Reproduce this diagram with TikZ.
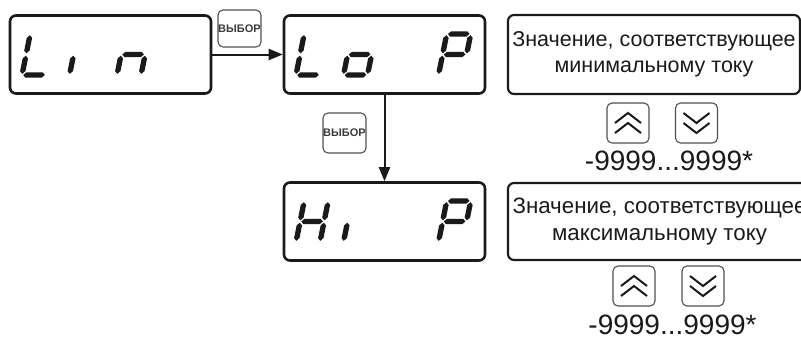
\documentclass[tikz,border=0pt]{standalone}
\usepackage{fontspec}
\setmainfont{Liberation Sans}
\usetikzlibrary{arrows.meta,calc}
\definecolor{ink}{HTML}{1A1A1A}
\definecolor{btn}{HTML}{505050}
\newcommand\segH[3]{\fill[ink] (#1,#3) -- ({#1+2.7},{#3+2.7}) -- ({#2-2.7},{#3+2.7}) -- (#2,#3) -- ({#2-2.7},{#3-2.7}) -- ({#1+2.7},{#3-2.7}) -- cycle;}
\newcommand\segV[3]{\fill[ink] (#1,#2) -- ({#1+2.7},{#2+2.7}) -- ({#1+2.7},{#3-2.7}) -- (#1,#3) -- ({#1-2.7},{#3-2.7}) -- ({#1-2.7},{#2+2.7}) -- cycle;}
\newcommand\segA{\segH{1.2}{22.8}{41}}
\newcommand\segG{\segH{1.2}{22.8}{20.5}}
\newcommand\segD{\segH{1.2}{22.8}{0}}
\newcommand\segF{\segV{0}{21.7}{39.8}}
\newcommand\segE{\segV{0}{1.2}{19.3}}
\newcommand\segB{\segV{24}{21.7}{39.8}}
\newcommand\segC{\segV{24}{1.2}{19.3}}
\newcommand\sevdig[3]{\begin{scope}[shift={(#1,#2)}, yscale=-1, xslant=-0.2]#3\end{scope}}
\newcommand\chevup[1]{\draw[chev] ($(#1)+(-13,0)$) -- ($(#1)+(0,-10)$) -- ($(#1)+(13,0)$);
  \draw[chev] ($(#1)+(-13,10)$) -- ($(#1)+(0,0)$) -- ($(#1)+(13,10)$);}
\newcommand\chevdown[1]{\draw[chev] ($(#1)+(-13,-10)$) -- ($(#1)+(0,0)$) -- ($(#1)+(13,-10)$);
  \draw[chev] ($(#1)+(-13,0)$) -- ($(#1)+(0,10)$) -- ($(#1)+(13,0)$);}
\tikzset{
  disp/.style={draw=ink, line width=2.6pt, rounded corners=6pt, minimum width=201pt, minimum height=78pt, inner sep=0pt},
  selbtn/.style={draw=btn, line width=1.1pt, rounded corners=5pt, minimum width=43pt, inner sep=0pt, text=ink!85, font=\bfseries\fontsize{11}{12}\selectfont},
  keybtn/.style={draw=btn, line width=1.1pt, rounded corners=5pt, minimum width=42pt, minimum height=40pt, inner sep=0pt},
  tbox/.style={draw=ink, line width=2.1pt, rounded corners=6pt, align=center, inner sep=0pt, text=ink},
  arr/.style={draw=ink, line width=2pt, -{Triangle[length=14pt,width=11pt]}},
  chev/.style={draw=ink, line width=2pt},
  rng/.style={anchor=base, text=ink, font=\fontsize{28}{30}\selectfont}
}
\begin{document}
\begin{tikzpicture}[x=1pt,y=-1pt]
\useasboundingbox (0,0) rectangle (801,338);
\fill[white] (0,0) rectangle (801,338);
\clip (0,0) rectangle (801,338);
% displays
\node[disp] (lin) at (110.5,54.5) {};
\node[disp] (lop) at (384.5,54.5) {};
\node[disp] (hip) at (384.5,221.5) {};
% Lin
\sevdig{22}{75}{\segF\segE\segD}
\sevdig{69.5}{75}{\segE}
\sevdig{117}{75}{\segE\segG\segC}
% Lo P
\sevdig{296}{75}{\segF\segE\segD}
\sevdig{343.5}{75}{\segC\segD\segE\segG}
\sevdig{438.5}{75}{\segA\segB\segF\segG\segE}
% Hi P
\sevdig{296}{242}{\segB\segC\segE\segF\segG}
\sevdig{343.5}{242}{\segE}
\sevdig{438.5}{242}{\segA\segB\segF\segG\segE}
% select buttons
\node[selbtn, minimum height=37pt] (b1) at (239.5,28.5) {ВЫБОР};
\node[selbtn, minimum height=40pt] (b2) at (344.5,133) {ВЫБОР};
% arrows
\draw[arr] (lin.east) -- (lop.west);
\draw[arr] (lop.south) -- (hip.north);
% text boxes
\node[tbox, minimum width=292pt, minimum height=79pt, font=\fontsize{21.5}{26}\selectfont] (t1) at (654,54.5) {Значение, соответствующее\\минимальному току};
\node[tbox, minimum width=303pt, minimum height=77pt, font=\fontsize{22.3}{26.7}\selectfont] (t2) at (659.5,221.5) {Значение, соответствующее\\максимальному току};
% key buttons
\node[keybtn] (u1) at (628,123) {};
\node[keybtn] (d1) at (696.5,123) {};
\node[keybtn] (u2) at (634,286) {};
\node[keybtn] (d2) at (703,286) {};
\chevup{u1}
\chevdown{d1}
\chevup{u2}
\chevdown{d2}
% ranges
\node[rng] (r1) at (669,170.5) {-9999...9999*};
\node[rng] (r2) at (672.5,334.5) {-9999...9999*};
\end{tikzpicture}
\end{document}
